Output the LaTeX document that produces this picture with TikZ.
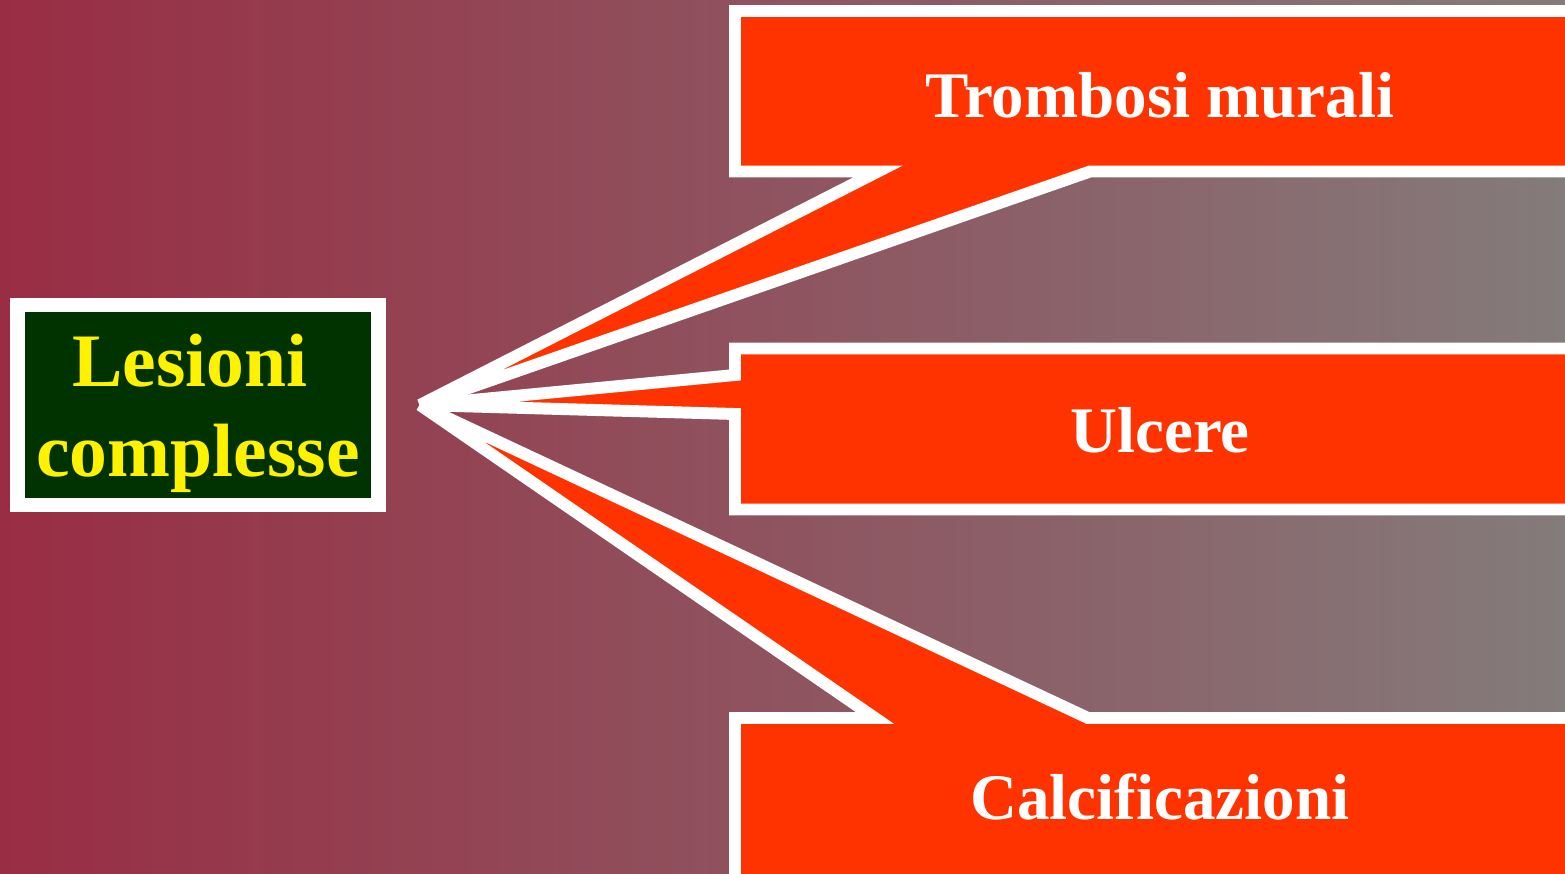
\documentclass[tikz,border=0pt]{standalone}
\usepackage{fontspec}
\setmainfont{Liberation Serif}
\usepackage{tikz}
\usepackage{xcolor}
\definecolor{bgleft}{HTML}{992D44}
\definecolor{bgright}{HTML}{847B7B}
\definecolor{calloutred}{HTML}{FF3300}
\definecolor{darkgreen}{HTML}{003300}

\begin{document}
\begin{tikzpicture}[x=0.02cm,y=-0.02cm,
    callout/.style={fill=calloutred, draw=white, line width=6.8pt, line join=miter},
    lbl/.style={text=white, font=\bfseries\fontsize{37}{44}\selectfont}]
  % Background
  \useasboundingbox (0,0) rectangle (1565,874);
  \clip (0,0) rectangle (1565,874);
  \shade[left color=bgleft, right color=bgright] (0,0) rectangle (1565,874);
  % Main box
  \node[draw=white, fill=darkgreen, line width=8.5pt, minimum width=7.22cm,
    minimum height=4cm, align=center, text=yellow, text depth=0pt,
    font=\bfseries\fontsize{43}{51}\selectfont] (lesioni) at (198,405)
    {Lesioni\hspace*{9pt}\\complesse};
  \coordinate (tip) at (420,405);
  % Callouts
  \draw[callout] (735,718) -- (875,718) -- (tip) -- (1088,718) -- (1620,718)
    -- (1620,920) -- (735,920) -- cycle;
  \draw[callout] (735,348.5) -- (1620,348.5) -- (1620,509.5) -- (735,509.5)
    -- (735,414) -- (tip) -- (735,375) -- cycle;
  \draw[callout] (735,11) -- (1620,11) -- (1620,171.5) -- (1090,171.5)
    -- (tip) -- (878,171.5) -- (735,171.5) -- cycle;
  % Labels
  \node[lbl] (trombosi) at (1160,95) {Trombosi murali};
  \node[lbl] (ulcere) at (1160,430) {Ulcere};
  \node[lbl] (calcif) at (1160,797) {Calcificazioni};
\end{tikzpicture}
\end{document}
